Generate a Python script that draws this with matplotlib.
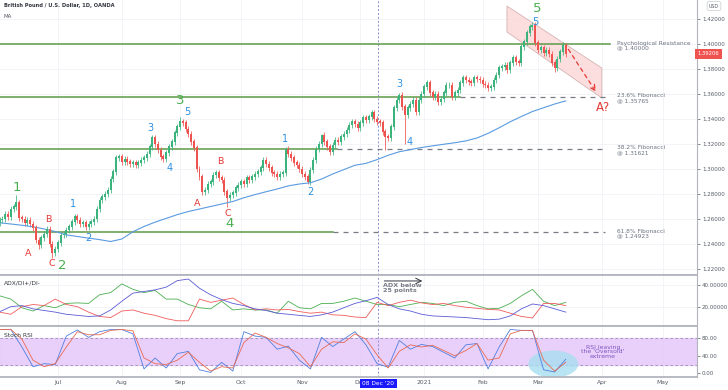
import numpy as np
import pandas as pd
import matplotlib
matplotlib.use('Agg')
import matplotlib.pyplot as plt
import matplotlib.transforms as mtrans
from matplotlib.patches import Polygon, Ellipse

# daily closes, bar 1 = 2 Jun 2020 ... bar 205 = last bar
closes = [1.2590, 1.2600, 1.2640, 1.2620, 1.2680, 1.2700, 1.2730, 1.2610, 1.2600, 1.2570,
          1.2590, 1.2560, 1.2530, 1.2430, 1.2390, 1.2450, 1.2480, 1.2520, 1.2400, 1.2330,
          1.2360, 1.2410, 1.2470, 1.2480, 1.2510, 1.2540, 1.2580, 1.2620, 1.2590, 1.2560,
          1.2570, 1.2540, 1.2560, 1.2580, 1.2600, 1.2680, 1.2750, 1.2780, 1.2800, 1.2830,
          1.2920, 1.2980, 1.3090, 1.3100, 1.3060, 1.3080, 1.3060, 1.3040, 1.3050, 1.3030,
          1.3050, 1.3070, 1.3090, 1.3120, 1.3180, 1.3250, 1.3200, 1.3150, 1.3100, 1.3080,
          1.3130, 1.3180, 1.3220, 1.3290, 1.3340, 1.3380, 1.3370, 1.3320, 1.3280, 1.3220,
          1.3170, 1.3000, 1.2940, 1.2820, 1.2830, 1.2880, 1.2900, 1.2950, 1.2970, 1.2930,
          1.2910, 1.2820, 1.2770, 1.2790, 1.2810, 1.2850, 1.2870, 1.2900, 1.2880, 1.2930,
          1.2910, 1.2940, 1.2960, 1.2980, 1.3010, 1.3070, 1.3040, 1.3010, 1.2970, 1.2960,
          1.2940, 1.2960, 1.2970, 1.3160, 1.3120, 1.3090, 1.3050, 1.3030, 1.3000, 1.2960,
          1.2940, 1.2900, 1.2990, 1.3070, 1.3160, 1.3200, 1.3270, 1.3220, 1.3180, 1.3140,
          1.3190, 1.3230, 1.3220, 1.3260, 1.3280, 1.3310, 1.3350, 1.3380, 1.3360, 1.3330,
          1.3370, 1.3410, 1.3390, 1.3420, 1.3450, 1.3400, 1.3380, 1.3370, 1.3300, 1.3260,
          1.3250, 1.3340, 1.3490, 1.3550, 1.3590, 1.3500, 1.3430, 1.3490, 1.3520, 1.3550,
          1.3460, 1.3550, 1.3600, 1.3660, 1.3690, 1.3610, 1.3580, 1.3600, 1.3540, 1.3560,
          1.3610, 1.3670, 1.3670, 1.3580, 1.3610, 1.3630, 1.3690, 1.3730, 1.3710, 1.3700,
          1.3690, 1.3730, 1.3720, 1.3710, 1.3680, 1.3670, 1.3650, 1.3660, 1.3710, 1.3750,
          1.3810, 1.3820, 1.3830, 1.3790, 1.3850, 1.3890, 1.3860, 1.3850, 1.3980, 1.4020,
          1.4090, 1.4140, 1.4150, 1.4010, 1.3950, 1.3970, 1.3930, 1.3950, 1.3920, 1.3850,
          1.3810, 1.3880, 1.3940, 1.3990, 1.3921]
first_open = 1.2570
# notable wick extremes (bar -> price)
high_fix = {7: 1.2790, 66: 1.3420, 104: 1.3176, 117: 1.3280, 145: 1.3610, 193: 1.4176, 205: 1.4010}
low_fix = {15: 1.2360, 20: 1.2290, 83: 1.2700, 112: 1.2880, 140: 1.3150, 147: 1.3200, 201: 1.3780}

# indicators sampled every 4 bars
ind_bars = list(range(1, 206, 4))
ma100 = [1.2570, 1.2560, 1.2550, 1.2538, 1.2520, 1.2500, 1.2473, 1.2460, 1.2447, 1.2435,
         1.2420, 1.2440, 1.2498, 1.2540, 1.2575, 1.2605, 1.2635, 1.2660, 1.2680, 1.2700,
         1.2720, 1.2740, 1.2770, 1.2795, 1.2818, 1.2840, 1.2865, 1.2880, 1.2890, 1.2920,
         1.2960, 1.2995, 1.3030, 1.3045, 1.3075, 1.3110, 1.3138, 1.3155, 1.3172, 1.3185,
         1.3198, 1.3210, 1.3225, 1.3248, 1.3285, 1.3330, 1.3378, 1.3420, 1.3460, 1.3490,
         1.3520, 1.3545]
di_plus = [30, 27, 19, 16, 21, 19, 23, 23.5, 23, 31, 33, 41, 36, 33, 35, 27, 27, 22, 19, 18,
           25, 17, 18, 17, 17, 14, 25, 19, 18, 23, 23, 25, 28, 25, 22, 22, 20, 22, 24, 23,
           21, 24, 25, 21, 18, 18.5, 23, 30, 36, 25, 21, 24]
di_minus = [15, 13, 20, 22, 21, 27, 22, 20, 15, 11, 10, 16, 17, 14, 12, 9, 7, 7, 27, 24,
            26, 28, 22, 17, 18, 17, 17.5, 15.5, 14, 15, 12.5, 12, 10.5, 10, 24, 21, 24, 26, 23.5, 22,
            23, 21, 19.5, 18.5, 17.5, 17, 14, 11, 9.6, 23, 23, 21]
adx = [15.4, 20, 21, 18, 16.5, 15, 13, 12, 11, 11.5, 17, 25, 32.5, 34, 35.5, 38, 44, 45.5, 37, 31,
       26.5, 23, 21, 18, 16.5, 14, 13, 12, 11, 12.5, 15, 19, 23, 25.5, 28.5, 22, 18, 16, 13, 11.5,
       11, 10.5, 10, 9, 8, 8.5, 11.5, 18, 22.5, 21, 18, 15]
stoch_k = [100, 100, 60, 15, 22, 20, 85, 99, 82, 95, 100, 100, 90, 10, 35, 12, 45, 50, 8, 2,
           25, 5, 95, 85, 82, 55, 62, 30, 10, 82, 61, 78, 95, 65, 22, 14, 75, 55, 66, 61,
           48, 35, 65, 68, 10, 60, 100, 98, 98, 8, 3, 32]
stoch_d = [100, 100, 78, 30, 15, 22, 60, 95, 88, 88, 98, 100, 97, 35, 22, 20, 30, 48, 25, 5,
           15, 12, 70, 92, 82, 68, 58, 45, 15, 55, 72, 70, 90, 78, 42, 12, 50, 65, 60, 64,
           52, 40, 52, 68, 30, 35, 90, 98, 98, 30, 5, 25]

levels = [1.40000, 1.35765, 1.31621, 1.24923]
level_names = ['Psychological Resistance\n@ 1.40000', '23.6% Fibonacci\n@ 1.35765',
               '38.2% Fibonacci\n@ 1.31621', '61.8% Fibonacci\n@ 1.24923']
level_solid_end = [221, 167, 122.5, 121]

wave_text = ['1', '2', '3', '4', '5',
             '1', '2', '3', '4', '5', '1', '2', '3', '4', '5',
             'A', 'B', 'C', 'A', 'B', 'C', 'A?']
wave_bar = [7.2, 23.4, 66.2, 84, 194.8,
            27.4, 32.8, 55.2, 62.4, 68.6, 103.8, 112.8, 145.2, 148.9, 193.9,
            11.2, 18.4, 19.8, 72.1, 80.4, 83.3, 218.4]
wave_price = [1.2856, 1.2232, 1.3545, 1.2568, 1.4288,
              1.2720, 1.2448, 1.3328, 1.3008, 1.3455, 1.3240, 1.2816, 1.3680, 1.3216, 1.4180,
              1.2328, 1.2592, 1.2248, 1.2728, 1.3056, 1.2648, 1.3496]
wave_kind = ['g'] * 5 + ['b'] * 10 + ['r'] * 6 + ['R']

up_col = '#3bb37c'
dn_col = '#ef5350'
grid_col = '#f0f2f7'
axis_col = '#b2b5be'
lab_col = '#555b66'

bars = np.arange(1, len(closes) + 1)
opens = [first_open] + closes[:-1]
highs = []
lows = []
for b, o, c in zip(bars, opens, closes):
    highs.append(high_fix.get(b, max(o, c) + 0.0024))
    lows.append(low_fix.get(b, min(o, c) - 0.0024))

days = pd.bdate_range('2020-06-01', periods=260)
tick_pos = []
tick_lab = []
for i in range(1, len(days)):
    if days[i].month != days[i - 1].month:
        tick_pos.append(i)
        tick_lab.append('2021' if days[i].month == 1 else days[i].strftime('%b'))

fig = plt.figure(figsize=(7.28, 3.9), dpi=100)
W = 697 / 728
ax1 = fig.add_axes([0, 115 / 390, W, 275 / 390])
ax2 = fig.add_axes([0, 64 / 390, W, 51 / 390], sharex=ax1)
ax3 = fig.add_axes([0, 13 / 390, W, 51 / 390], sharex=ax1)

for ax in (ax1, ax2, ax3):
    ax.spines['left'].set_visible(False)
    ax.spines['right'].set_color(axis_col)
    ax.spines['right'].set_linewidth(0.8)
    ax.spines['top'].set_color(axis_col)
    ax.spines['top'].set_linewidth(1.3)
    ax.spines['bottom'].set_color(axis_col)
    ax.spines['bottom'].set_linewidth(1.3)
    ax.yaxis.tick_right()
    ax.tick_params(axis='y', labelsize=4, colors=lab_col, length=2, pad=1.5, width=0.5)
    ax.tick_params(axis='x', length=0)
    for t in tick_pos:
        ax.axvline(t, color=grid_col, lw=0.6, zorder=0)
    ax.axvline(137.5, color='#8a8fd0', lw=0.7, ls=(0, (2, 2)), zorder=1)
ax1.spines['top'].set_visible(False)

# price panel
ax1.set_xlim(1.1, 252.3)
ax1.set_ylim(1.2152, 1.4352)
yt = np.arange(1.22, 1.4201, 0.02)
ax1.set_yticks(yt)
ax1.set_yticklabels(['%.5f' % v for v in yt])
for v in yt:
    ax1.axhline(v, color=grid_col, lw=0.6, zorder=0)

up = np.array(closes) >= np.array(opens)
cols = [up_col if u else dn_col for u in up]
ax1.vlines(bars, lows, highs, colors=cols, lw=0.55, zorder=3)
ax1.bar(bars, np.abs(np.array(closes) - np.array(opens)) + 0.0004,
        bottom=np.minimum(opens, closes), width=0.72, color=cols, zorder=4)
ax1.plot(ind_bars, ma100, color='#5a9be0', lw=0.8, zorder=3)

for lv, nm, se in zip(levels, level_names, level_solid_end):
    ax1.plot([1.1, se], [lv, lv], color='#5e9a48', lw=1.1, zorder=2)
    if se < 219:
        ax1.plot([se, 219.2], [lv, lv], color='#787b86', lw=0.9, ls=(0, (4, 4)), zorder=2)
    ax1.text(223.4, lv + 0.0028, nm, fontsize=4.25, color='#6b7280', va='top', ha='left',
             linespacing=0.95, zorder=5)

chan = Polygon([(183.8, 1.4304), (218, 1.3808), (218, 1.3568), (183.8, 1.4096)],
               closed=True, facecolor='#fbd3d3', edgecolor='#c9a0a0', lw=0.6, alpha=0.75, zorder=1)
ax1.add_patch(chan)
ax1.annotate('', xy=(216.4, 1.3600), xytext=(205.4, 1.3976),
             arrowprops=dict(arrowstyle='->', color='#e53935', lw=0.9, ls=(0, (3, 3))), zorder=6)

wave_style = {'g': ('#4caf50', 9.5), 'b': ('#2e8fe0', 7), 'r': ('#e53935', 6.8), 'R': ('#e53935', 8.5)}
for t, b, p, k in zip(wave_text, wave_bar, wave_price, wave_kind):
    c, fs = wave_style[k]
    ax1.text(b, p, t, color=c, fontsize=fs, ha='center', va='center', zorder=7)

ax1.text(1.0005, 1.39206, '1.39206', transform=mtrans.blended_transform_factory(ax1.transAxes, ax1.transData),
         fontsize=3.8, color='white', va='center', ha='left',
         bbox=dict(boxstyle='square,pad=0.5', fc='#ef5350', ec='none'), clip_on=False)
fig.text(714 / 728, 1 - 6 / 390, 'USD', fontsize=3.4, color=lab_col, ha='center', va='center',
         bbox=dict(boxstyle='round,pad=0.4', fc='white', ec='#c8cad0', lw=0.5))
fig.text(4 / 728, 1 - 6 / 390, 'British Pound / U.S. Dollar, 1D, OANDA', fontsize=3.7,
         fontweight='bold', color='#333740', va='center')
fig.text(4 / 728, 1 - 16 / 390, 'MA', fontsize=4, color='#555b66', va='center')

# ADX panel
ax2.set_ylim(2.2, 49.2)
ax2.set_yticks([20, 40])
ax2.set_yticklabels(['20.00000', '40.00000'])
for v in (20, 40):
    ax2.axhline(v, color=grid_col, lw=0.6, zorder=0)
ax2.plot(ind_bars, di_plus, color='#4caf50', lw=0.6)
ax2.plot(ind_bars, di_minus, color='#f05b5b', lw=0.6)
ax2.plot(ind_bars, adx, color='#5b5bd6', lw=0.6)
ax2.text(0.006, 0.82, 'ADX/DI+/DI-', transform=ax2.transAxes, fontsize=4.3, color='#333740')
ax2.annotate('', xy=(154.3, 43.7), xytext=(138.6, 43.7),
             arrowprops=dict(arrowstyle='->', color='#333740', lw=0.7))
ax2.text(139.1, 41.8, 'ADX below\n25 points', fontsize=4.6, fontweight='bold', color='#787b86',
         va='top', ha='left', linespacing=0.95)

# Stoch RSI panel
ax3.set_ylim(-8.5, 108)
ax3.set_yticks([0, 40, 80])
ax3.set_yticklabels(['0.00', '40.00', '80.00'])
ax3.axhspan(20, 80, color='#e6c8fa', alpha=0.85, zorder=0)
for v in (20, 80):
    ax3.axhline(v, color='#9a8fb0', lw=0.6, ls=(0, (3, 3)), zorder=1)
ax3.add_patch(Ellipse((200.5, 21), 18, 62, facecolor='#a8def0', alpha=0.8, edgecolor='none', zorder=1))
ax3.plot(ind_bars, stoch_k, color='#4f7fe0', lw=0.6, zorder=3)
ax3.plot(ind_bars, stoch_d, color='#e86a50', lw=0.6, zorder=3)
ax3.text(0.006, 0.78, 'Stoch RSI', transform=ax3.transAxes, fontsize=4.3, color='#333740')
ax3.text(218.4, 49, "RSI leaving\nthe 'Oversold'\nextreme", fontsize=4.4, color='#7e57c2',
         ha='center', va='center', linespacing=0.95, zorder=5)

ax3.set_xticks(tick_pos)
ax3.set_xticklabels(tick_lab)
ax3.tick_params(axis='x', labelsize=4.3, colors=lab_col, pad=2.5)
plt.setp(ax1.get_xticklabels(), visible=False)
plt.setp(ax2.get_xticklabels(), visible=False)
ax3.text(137.5, -0.12, "08 Dec '20", transform=mtrans.blended_transform_factory(ax3.transData, ax3.transAxes),
         fontsize=4.2, color='white', ha='center', va='center',
         bbox=dict(boxstyle='square,pad=0.35', fc='#1a1aff', ec='none'), clip_on=False, zorder=10)

fig.savefig('out.png', dpi=100)
